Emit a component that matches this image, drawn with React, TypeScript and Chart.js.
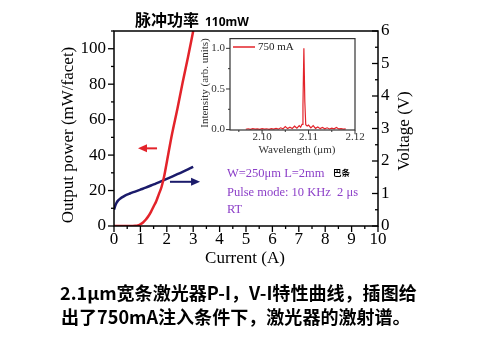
import React, { useEffect, useRef } from 'react';
import { Chart, registerables } from 'chart.js';

Chart.register(...registerables);

const SERIF = '"Liberation Serif", "Times New Roman", serif';
const CJK = '"Noto Sans CJK SC", "Noto Sans", sans-serif';
const RED = '#e3232a';
const BLUE = '#1b1b6b';
const PURPLE = '#8c3fc8';

// P-I curve (left axis, mW/facet)
const piCurrent = [0, 0.3, 0.6, 0.8, 0.9, 1.0, 1.1, 1.2, 1.3, 1.4, 1.5, 1.6, 1.7, 1.8, 1.9, 2.0, 2.2, 2.4, 2.6, 2.8, 3.0];
const piPower = [0, 0, 0, 0.1, 0.3, 1, 2, 3.5, 5.5, 8, 11, 14, 18, 22, 28, 36, 52, 66, 81, 95, 110];

// V-I curve (right axis, V)
const viCurrent = [0, 0.05, 0.1, 0.15, 0.2, 0.3, 0.4, 0.6, 0.8, 1.0, 1.2, 1.5, 1.8, 2.0, 2.2, 2.5, 2.8, 3.0];
const viVoltage = [0.5, 0.63, 0.72, 0.78, 0.82, 0.88, 0.93, 1.0, 1.06, 1.12, 1.18, 1.28, 1.38, 1.45, 1.52, 1.63, 1.74, 1.82];

// main axes ticks
const xMajor = [0, 1, 2, 3, 4, 5, 6, 7, 8, 9, 10];
const xMinor = [0.5, 1.5, 2.5, 3.5, 4.5, 5.5, 6.5, 7.5, 8.5, 9.5];
const leftMajor = [0, 20, 40, 60, 80, 100];
const leftMinor = [10, 30, 50, 70, 90, 110];
const rightMajor = [0, 1, 2, 3, 4, 5, 6];
const rightMinor = [0.5, 1.5, 2.5, 3.5, 4.5, 5.5];

// inset spectrum at 750 mA
const specWl = [2.0965, 2.0970, 2.0975, 2.0980, 2.0985, 2.0990, 2.0995, 2.1000, 2.1005, 2.1010, 2.1015, 2.1020, 2.1025, 2.1030, 2.1035, 2.1040, 2.1045, 2.1050, 2.1055, 2.1060, 2.1065, 2.1070, 2.1075, 2.1080, 2.1083, 2.1086, 2.1088, 2.1090, 2.1092, 2.1094, 2.1097, 2.1100, 2.1105, 2.1110, 2.1115, 2.1120, 2.1125, 2.1130, 2.1135, 2.1140, 2.1145, 2.1150, 2.1155, 2.1160, 2.1165, 2.1170, 2.1175, 2.1180];
const specInt = [0.004, 0.010, 0.003, 0.012, 0.005, 0.009, 0.004, 0.011, 0.006, 0.010, 0.003, 0.012, 0.007, 0.015, 0.005, 0.022, 0.009, 0.038, 0.012, 0.030, 0.014, 0.042, 0.018, 0.048, 0.030, 0.065, 0.30, 1.0, 0.35, 0.06, 0.045, 0.055, 0.020, 0.048, 0.015, 0.032, 0.012, 0.026, 0.010, 0.022, 0.008, 0.018, 0.010, 0.026, 0.008, 0.012, 0.005, 0.008];
const insetXMajor = [2.10, 2.11, 2.12];
const insetXMinor = [2.095, 2.105, 2.115];
const insetYMajor = [0, 0.5, 1.0];
const insetYMinor = [0.25, 0.75];

const captionLines = ['2.1μm宽条激光器P-I，V-I特性曲线，插图给', '出了750mA注入条件下，激光器的激射谱。'];

function line(ctx: CanvasRenderingContext2D, x1: number, y1: number, x2: number, y2: number) {
  ctx.beginPath();
  ctx.moveTo(x1, y1);
  ctx.lineTo(x2, y2);
  ctx.stroke();
}

function arrow(ctx: CanvasRenderingContext2D, xFrom: number, xTo: number, y: number, color: string) {
  ctx.save();
  ctx.strokeStyle = color;
  ctx.fillStyle = color;
  ctx.lineWidth = 2;
  const dir = xTo > xFrom ? 1 : -1;
  line(ctx, xFrom, y, xTo - dir * 6, y);
  ctx.beginPath();
  ctx.moveTo(xTo, y);
  ctx.lineTo(xTo - dir * 9, y - 4);
  ctx.lineTo(xTo - dir * 9, y + 4);
  ctx.closePath();
  ctx.fill();
  ctx.restore();
}

function fitFont(ctx: CanvasRenderingContext2D, text: string, weight: string, family: string, width: number) {
  ctx.font = `${weight} 20px ${family}`;
  const w = ctx.measureText(text).width;
  return (20 * width) / w;
}

const mainPlugin = {
  id: 'mainDecor',
  afterDraw(chart: any) {
    const { ctx, chartArea: a, scales } = chart;
    const sx = scales.x, sy = scales.y, sy2 = scales.y2;
    ctx.save();
    ctx.strokeStyle = '#000';
    ctx.lineWidth = 1.5;
    ctx.strokeRect(a.left, a.top, a.right - a.left, a.bottom - a.top);
    ctx.lineWidth = 1.3;
    xMajor.forEach((v) => { const p = sx.getPixelForValue(v); line(ctx, p, a.bottom, p, a.bottom + 6); });
    xMinor.forEach((v) => { const p = sx.getPixelForValue(v); line(ctx, p, a.bottom, p, a.bottom + 3); });
    leftMajor.forEach((v) => { const p = sy.getPixelForValue(v); line(ctx, a.left, p, a.left - 6, p); });
    leftMinor.forEach((v) => { const p = sy.getPixelForValue(v); line(ctx, a.left, p, a.left - 3, p); });
    rightMajor.forEach((v) => { const p = sy2.getPixelForValue(v); line(ctx, a.right, p, a.right - 6, p); });
    rightMinor.forEach((v) => { const p = sy2.getPixelForValue(v); line(ctx, a.right, p, a.right - 3, p); });

    // axis titles
    ctx.fillStyle = '#000';
    ctx.font = `17px ${SERIF}`;
    ctx.textAlign = 'center';
    ctx.textBaseline = 'middle';
    ctx.fillText('Current (A)', 245, 259);
    ctx.save();
    ctx.translate(69, 135);
    ctx.rotate(-Math.PI / 2);
    ctx.fillText('Output power (mW/facet)', 0, 0);
    ctx.restore();
    ctx.save();
    ctx.translate(405, 131);
    ctx.rotate(-Math.PI / 2);
    ctx.fillText('Voltage (V)', 0, 0);
    ctx.restore();

    // title
    ctx.textAlign = 'left';
    ctx.textBaseline = 'alphabetic';
    ctx.font = `bold 16px ${CJK}`;
    ctx.fillText('脉冲功率', 135, 26);
    ctx.font = `bold 12px "Noto Sans", sans-serif`;
    ctx.fillText('110mW', 205, 26);

    // annotations
    ctx.fillStyle = PURPLE;
    ctx.font = `12.5px ${SERIF}`;
    ctx.fillText('W=250μm L=2mm', 227, 177);
    ctx.fillText('Pulse mode: 10 KHz  2 μs', 227, 196);
    ctx.fillText('RT', 227, 213);
    ctx.fillStyle = '#000';
    ctx.font = `bold 8.5px ${CJK}`;
    ctx.fillText('巴条', 333, 176);

    // arrows
    arrow(ctx, sx.getPixelForValue(1.63), sx.getPixelForValue(0.91), sy.getPixelForValue(43.8), RED);
    arrow(ctx, sx.getPixelForValue(2.12), sx.getPixelForValue(3.26), sy2.getPixelForValue(1.36), BLUE);

    // caption
    ctx.fillStyle = '#000';
    const size = fitFont(ctx, captionLines[0], 'bold', CJK, 357);
    ctx.font = `bold ${size}px ${CJK}`;
    ctx.fillText(captionLines[0], 60, 300);
    ctx.fillText(captionLines[1], 61, 324);
    ctx.restore();
  },
};

const insetPlugin = {
  id: 'insetDecor',
  afterDraw(chart: any) {
    const { ctx, chartArea: a, scales } = chart;
    const sx = scales.x, sy = scales.y;
    ctx.save();
    ctx.strokeStyle = '#333';
    ctx.lineWidth = 1.2;
    ctx.strokeRect(a.left, a.top, a.right - a.left, a.bottom - a.top);
    ctx.lineWidth = 1;
    insetXMajor.forEach((v) => { const p = sx.getPixelForValue(v); line(ctx, p, a.bottom, p, a.bottom + 4); });
    insetXMinor.forEach((v) => { const p = sx.getPixelForValue(v); line(ctx, p, a.bottom, p, a.bottom + 2); });
    insetYMajor.forEach((v) => { const p = sy.getPixelForValue(v); line(ctx, a.left, p, a.left - 4, p); });
    insetYMinor.forEach((v) => { const p = sy.getPixelForValue(v); line(ctx, a.left, p, a.left - 2, p); });

    ctx.fillStyle = '#333';
    ctx.font = `11px ${SERIF}`;
    ctx.textAlign = 'center';
    ctx.textBaseline = 'middle';
    ctx.fillText('Wavelength (μm)', 102, 123);
    ctx.save();
    ctx.translate(10, 56);
    ctx.rotate(-Math.PI / 2);
    ctx.fillText('Intensity (arb. units)', 0, 0);
    ctx.restore();

    // legend
    ctx.strokeStyle = RED;
    ctx.lineWidth = 1.5;
    line(ctx, 38, 20, 60, 20);
    ctx.fillStyle = '#222';
    ctx.textAlign = 'left';
    ctx.fillText('750 mA', 63, 20);
    ctx.restore();
  },
};

export default function App() {
  const mainRef = useRef<HTMLCanvasElement | null>(null);
  const insetRef = useRef<HTMLCanvasElement | null>(null);

  useEffect(() => {
    if (!mainRef.current || !insetRef.current) return;
    const tickFont = { family: SERIF, size: 17 };
    const main = new Chart(mainRef.current, {
      type: 'scatter',
      data: {
        datasets: [
          {
            data: piCurrent.map((x, i) => ({ x, y: piPower[i] })),
            yAxisID: 'y',
            showLine: true,
            borderColor: RED,
            borderWidth: 2.5,
            pointRadius: 0,
            cubicInterpolationMode: 'monotone',
          },
          {
            data: viCurrent.map((x, i) => ({ x, y: viVoltage[i] })),
            yAxisID: 'y2',
            showLine: true,
            borderColor: BLUE,
            borderWidth: 2.5,
            pointRadius: 0,
            cubicInterpolationMode: 'monotone',
          },
        ],
      },
      options: {
        animation: false,
        responsive: false,
        devicePixelRatio: 1,
        layout: { padding: { top: 31, left: 0, right: 0, bottom: 0 } },
        plugins: { legend: { display: false }, tooltip: { enabled: false }, title: { display: false } },
        scales: {
          x: {
            type: 'linear',
            min: 0,
            max: 10,
            afterBuildTicks: (s: any) => { s.ticks = xMajor.map((v) => ({ value: v })); },
            afterFit: (s: any) => { s.height = 134; },
            ticks: { font: tickFont, color: '#000', padding: 3, maxRotation: 0, autoSkip: false },
            grid: { display: false, drawTicks: false },
            border: { display: false },
          },
          y: {
            type: 'linear',
            position: 'left',
            min: 0,
            max: 110,
            afterBuildTicks: (s: any) => { s.ticks = leftMajor.map((v) => ({ value: v })); },
            afterFit: (s: any) => { s.width = 114; },
            ticks: { font: tickFont, color: '#000', padding: 8, autoSkip: false },
            grid: { display: false, drawTicks: false },
            border: { display: false },
          },
          y2: {
            type: 'linear',
            position: 'right',
            min: 0,
            max: 6,
            afterBuildTicks: (s: any) => { s.ticks = rightMajor.map((v) => ({ value: v })); },
            afterFit: (s: any) => { s.width = 102; },
            ticks: { font: tickFont, color: '#000', padding: 3, autoSkip: false },
            grid: { display: false, drawTicks: false },
            border: { display: false },
          },
        },
      } as any,
      plugins: [mainPlugin],
    });

    const insetFont = { family: SERIF, size: 11 };
    const inset = new Chart(insetRef.current, {
      type: 'scatter',
      data: {
        datasets: [
          {
            data: specWl.map((x, i) => ({ x, y: specInt[i] })),
            showLine: true,
            borderColor: RED,
            borderWidth: 1.2,
            pointRadius: 0,
          },
        ],
      },
      options: {
        animation: false,
        responsive: false,
        devicePixelRatio: 1,
        layout: { padding: { top: 10, left: 0, right: 25, bottom: 0 } },
        plugins: { legend: { display: false }, tooltip: { enabled: false } },
        scales: {
          x: {
            type: 'linear',
            min: 2.0931,
            max: 2.12,
            afterBuildTicks: (s: any) => { s.ticks = insetXMajor.map((v) => ({ value: v })); },
            afterFit: (s: any) => { s.height = 28; },
            ticks: { font: insetFont, color: '#333', padding: 1, maxRotation: 0, autoSkip: false, callback: (v: any) => Number(v).toFixed(2) },
            grid: { display: false, drawTicks: false },
            border: { display: false },
          },
          y: {
            type: 'linear',
            min: -0.005,
            max: 1.12,
            afterBuildTicks: (s: any) => { s.ticks = insetYMajor.map((v) => ({ value: v })); },
            afterFit: (s: any) => { s.width = 35; },
            ticks: { font: insetFont, color: '#333', padding: 5, autoSkip: false, callback: (v: any) => Number(v).toFixed(1) },
            grid: { display: false, drawTicks: false },
            border: { display: false },
          },
        },
      } as any,
      plugins: [insetPlugin],
    });

    return () => {
      main.destroy();
      inset.destroy();
    };
  }, []);

  return (
    <div style={{ position: 'fixed', left: 0, top: 0, width: 480, height: 360, background: '#fff' }}>
      <canvas ref={mainRef} width={480} height={360} style={{ position: 'absolute', left: 0, top: 0, display: 'block' }} />
      <canvas ref={insetRef} width={185} height={131} style={{ position: 'absolute', left: 195, top: 27, display: 'block' }} />
    </div>
  );
}
